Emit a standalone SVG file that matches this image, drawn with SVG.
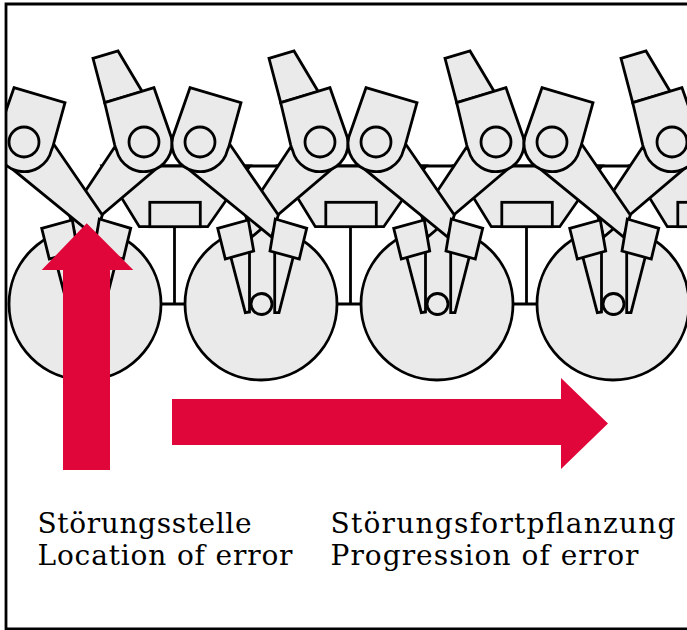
<svg xmlns="http://www.w3.org/2000/svg" xmlns:xlink="http://www.w3.org/1999/xlink" width="687" height="630" viewBox="0 0 687 630">
<style>
.s{fill:#eaeaea;stroke:#000;stroke-width:2.8;stroke-linejoin:miter}
.l{fill:none;stroke:#000;stroke-width:2.8}
.r{fill:#e1063a}
.t{font-family:"DejaVu Serif",serif;font-size:28px;fill:#000}
</style>
<defs>
<clipPath id="c"><rect x="6" y="4" width="681" height="625"/></clipPath>
<g id="hub">
<path class="s" d="M102 166H250L207.700 226.700H139.300Z"/>
<rect class="s" x="149.800" y="202.300" width="50.500" height="24.400"/>
<path class="l" d="M174.500 226.700V304"/>
</g>
<g id="wheel">
<circle class="s" cx="85" cy="304" r="76"/>
<path class="s" d="M54 254L73.500 246V312L69.300 312.700Z"/>
<path class="s" d="M98.700 246L118 254L103 312.700L98.700 312.700Z"/>
<circle class="s" cx="85.500" cy="304" r="10.500"/>
</g>
<g id="pair">
<path class="s" d="M114 148L69.500 215L75.700 237L157 168Z"/>
<path class="s" d="M54.300 145L102.300 215L95.700 237L10.700 167.700Z"/>
<path class="s" d="M14 87.700L65 102.700L53.300 145Q52.500 148 51.500 150A27.500 27.500 0 1 1 -3.200 137Z"/>
<circle class="s" cx="24" cy="142" r="15"/>
<path class="s" d="M93 58.300L118 51L142.300 91.700L104.700 102.700Z"/>
<path class="s" d="M154 87.700L104.700 102.700L114.700 145Q115.500 148 116.500 150A27.500 27.500 0 1 0 171.200 137Z"/>
<circle class="s" cx="144" cy="142" r="15"/>
<path class="s" d="M41.700 228.300L72.300 220L77.700 251L49.300 259Z"/>
<path class="s" d="M99.300 219L130.700 228.300L123.300 259L94 251Z"/>
</g>
</defs>
<rect width="687" height="630" fill="#fff"/>
<g clip-path="url(#c)">
<g id="connectors">
<path class="l" d="M102 166H687M85 304H687"/>
</g>
<g id="hubs">
<use xlink:href="#hub"/>
<use xlink:href="#hub" x="176"/>
<use xlink:href="#hub" x="352"/>
<use xlink:href="#hub" x="528"/>
</g>
<g id="wheels">
<use xlink:href="#wheel"/>
<use xlink:href="#wheel" x="176"/>
<use xlink:href="#wheel" x="352"/>
<use xlink:href="#wheel" x="528"/>
</g>
<g id="levers">
<use xlink:href="#pair"/>
<use xlink:href="#pair" x="176"/>
<use xlink:href="#pair" x="352"/>
<use xlink:href="#pair" x="528"/>
</g>
</g>
<path id="frame" fill="none" stroke="#000" stroke-width="2.800" d="M687 4H6V629H687"/>
<g id="arrow-up"><path class="r" d="M63 470V270H41.700L86.700 223.300L133.300 270H110V470Z"/></g>
<g id="arrow-right"><path class="r" d="M172 399H561V378L608 423.500L561 469V445H172Z"/></g>
<g id="labels">
<text class="t" x="37.500" y="533" textLength="214" lengthAdjust="spacing">Störungsstelle</text>
<text class="t" x="37.500" y="565" textLength="255" lengthAdjust="spacing">Location of error</text>
<text class="t" x="330.500" y="533" textLength="345" lengthAdjust="spacing">Störungsfortpflanzung</text>
<text class="t" x="330.500" y="565" textLength="308" lengthAdjust="spacing">Progression of error</text>
</g>
</svg>
